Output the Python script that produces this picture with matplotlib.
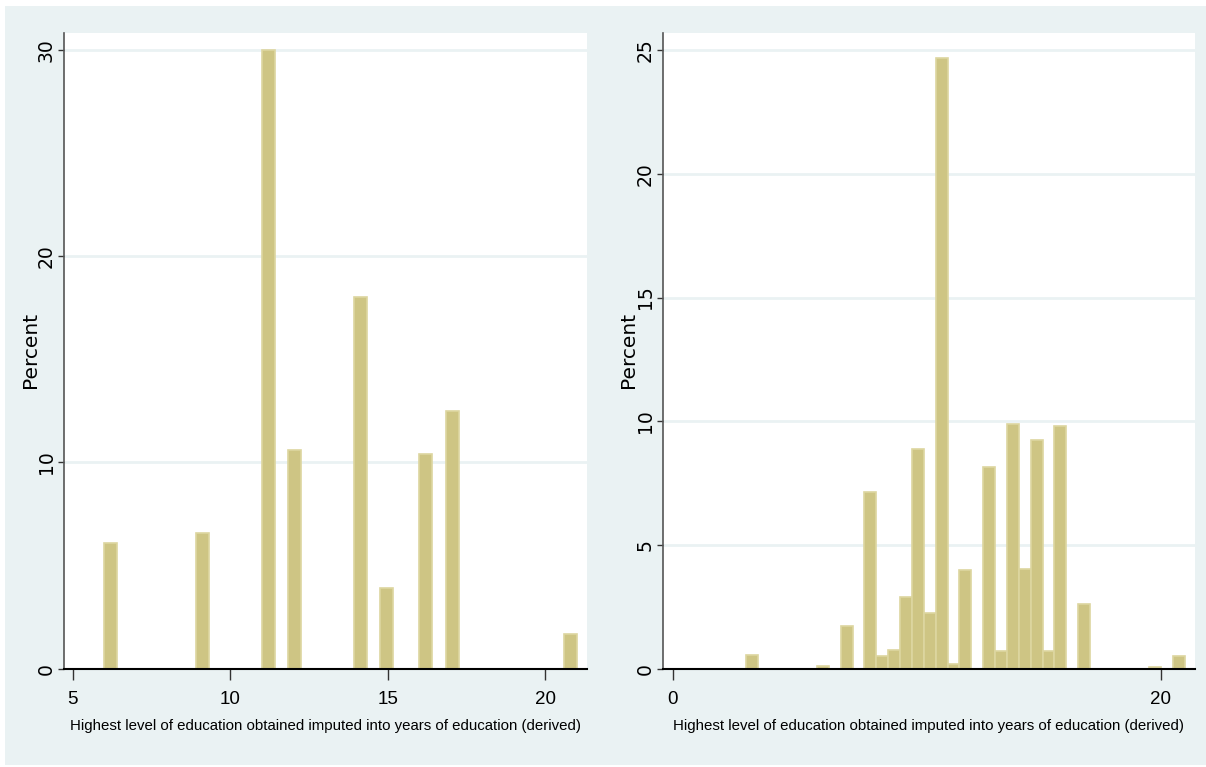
import matplotlib.pyplot as plt
import numpy as np
from matplotlib.patches import Rectangle

# Left panel: distribution of years of education (percent per year value)
left_years = [6, 9, 11, 12, 14, 15, 16, 17, 21]
left_pct = [6.1, 6.6, 30.0, 10.6, 18.0, 3.9, 10.4, 12.5, 1.7]
left_bins = 36
left_range = (6, 21)

# Right panel: histogram bin heights (37 bins from 3 to 21 years)
right_pct = [0.57, 0, 0, 0, 0, 0, 0.1, 0, 1.74, 0,
             7.15, 0.53, 0.75, 2.9, 8.86, 2.24, 24.66, 0.18, 3.97, 0,
             8.14, 0.73, 9.87, 4.04, 9.25, 0.73, 9.79, 0, 2.63, 0,
             0, 0, 0, 0, 0.05, 0, 0.5]
right_range = (3, 21)

left_yticks = [0, 10, 20, 30]
left_xticks = [5, 10, 15, 20]
right_yticks = [0, 5, 10, 15, 20, 25]
right_xticks = [0, 20]

xlabel_text = 'Highest level of education obtained imputed into years of education (derived)'

bg = '#EAF2F3'
bar_face = '#CEC584'
bar_edge = '#DDD6A0'
sans = 'Liberation Sans'

fig = plt.figure(figsize=(12.06, 7.67), dpi=100, facecolor='white')
fig.patches.append(Rectangle((5 / 1206, 2 / 767), 1, 759 / 767, transform=fig.transFigure,
                             facecolor=bg, edgecolor='none', zorder=-1))

ax1 = fig.add_axes([63.5 / 1206, 1 - 668.7 / 767, 523.2 / 1206, 635.7 / 767])
ax2 = fig.add_axes([662.5 / 1206, 1 - 668.7 / 767, 532.8 / 1206, 635.7 / 767])

ax1.hist(left_years, bins=left_bins, range=left_range, weights=left_pct,
         color=bar_face, edgecolor=bar_edge, linewidth=1.2, zorder=2)
edges = np.linspace(right_range[0], right_range[1], len(right_pct) + 1)
ax2.hist(edges[:-1], bins=edges, weights=right_pct,
         color=bar_face, edgecolor=bar_edge, linewidth=1.2, zorder=2)


def style(ax, xticks, yticks, xlim, ylim):
    ax.set_facecolor('white')
    ax.set_xlim(*xlim)
    ax.set_ylim(*ylim)
    ax.set_xticks(xticks)
    ax.set_yticks(yticks)
    ax.set_axisbelow(True)
    ax.grid(axis='y', color=bg, linewidth=2)
    for side in ['top', 'right']:
        ax.spines[side].set_visible(False)
    ax.spines['left'].set_color('#555555')
    ax.spines['left'].set_linewidth(1.2)
    ax.spines['bottom'].set_color('black')
    ax.spines['bottom'].set_linewidth(1.5)
    ax.tick_params(axis='x', length=8, width=1, color='#333333', pad=8)
    ax.tick_params(axis='y', length=4, width=1, color='#333333', pad=1.5, labelrotation=90)
    for lab in ax.get_xticklabels():
        lab.set_fontfamily(sans)
        lab.set_fontsize(13.5)
    for lab in ax.get_yticklabels():
        lab.set_fontfamily('DejaVu Sans')
        lab.set_fontsize(13.5)
        lab.set_va('center')
    ax.set_xlabel(xlabel_text, fontfamily=sans, fontsize=10.8, labelpad=8)
    ylab = ax.set_ylabel('Percent', fontfamily='DejaVu Sans', fontsize=14.5)
    ax.yaxis.set_label_coords(-0.0629, 0.501)
    ylab.set_ha('center')
    ylab.set_va('center')


style(ax1, left_xticks, left_yticks, (4.71, 21.31), (0, 30.82))
style(ax2, right_xticks, right_yticks, (-0.41, 21.42), (0, 25.69))

fig.savefig('out.png', dpi=100, facecolor='white')
